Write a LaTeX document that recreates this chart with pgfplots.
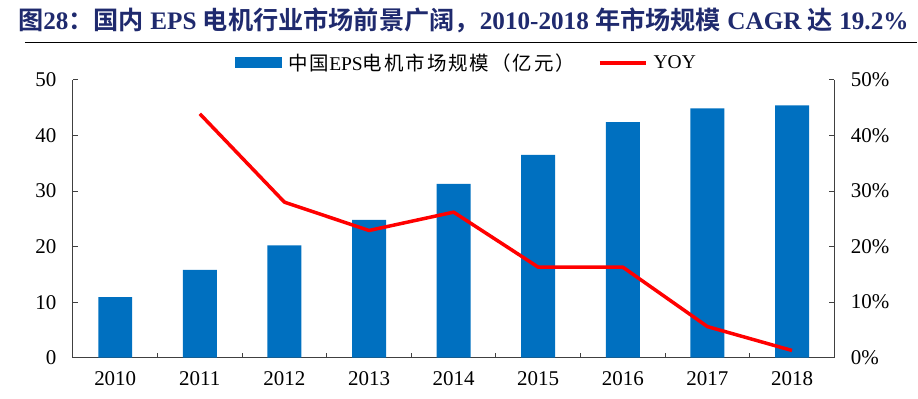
\documentclass[border=0pt]{standalone}
\usepackage{fontspec}
\setmainfont{Liberation Serif}
\newfontfamily\cjk{Noto Sans CJK SC}[BoldFont={Noto Sans CJK SC Bold}]
\newfontfamily\cjkl{Noto Sans CJK SC}[LetterSpace=10]
\usepackage{pgfplots}
\pgfplotsset{compat=1.18}
\definecolor{barblue}{HTML}{0070C0}
\definecolor{titlenavy}{HTML}{1F2A6E}
\definecolor{axgray}{HTML}{404040}
\begin{document}
\begin{tikzpicture}[x=1pt,y=1pt]
\path (0,0) rectangle (918,399);
\node[anchor=west, text=titlenavy, font=\fontsize{25.2}{28}\selectfont\bfseries, inner sep=0] at (18,379)
 {{\cjk 图}28{\cjk ：国内} EPS {\cjk 电机行业市场前景广阔，}2010-2018 {\cjk 年市场规模} CAGR {\cjk 达} 19.2\%};
\draw[line width=1.5pt] (25,356.5) -- (918,356.5);

\begin{axis}[at={(73pt,41pt)}, anchor=south west, scale only axis,
  width=762pt, height=278pt,
  xmin=-0.5, xmax=8.5, ymin=0, ymax=50,
  ytick={0,10,...,50},
  xtick={0,...,8},
  xticklabels={2010,2011,2012,2013,2014,2015,2016,2017,2018},
  minor xtick={0.5,1.5,...,7.5},
  major x tick style={draw=none},
  axis x line*=bottom, axis y line*=left,
  tick align=inside, major tick length=5pt, minor tick length=5pt,
  axis line style={axgray, line width=1pt, -},
  every tick/.style={axgray, line width=1pt},
  ticklabel style={font=\fontsize{21}{24}\selectfont},
  /pgf/number format/assume math mode=true,
  yticklabel style={xshift=-13pt},
  xticklabel style={yshift=-10pt},
  legend style={at={(0.5,1)}, anchor=center, xshift=13pt, yshift=17pt, draw=none, fill=none,
    font=\fontsize{19.5}{22}\selectfont, legend columns=2,
    /tikz/every odd column/.append style={column sep=4pt},
    /tikz/every even column/.append style={column sep=21pt}},
  legend cell align=left,
]
\addplot[ybar, bar width=34pt, fill=barblue, draw=none,
  legend image code/.code={\fill[barblue] (0pt,-5.5pt) rectangle (47pt,5.5pt);}]
  coordinates {(0,10.9) (1,15.8) (2,20.2) (3,24.8) (4,31.3) (5,36.5) (6,42.4) (7,44.9) (8,45.4)};
\addlegendentry{{\cjkl 中国}EPS{\cjkl 电机市场规模（亿元）}}
\addlegendimage{red, line width=3.5pt, legend image code/.code={\draw[red, line width=3.5pt] (0pt,0pt) -- (46pt,0pt);}}
\addlegendentry{YOY}
\end{axis}

\begin{axis}[at={(73pt,41pt)}, anchor=south west, scale only axis,
  width=762pt, height=278pt,
  xmin=-0.5, xmax=8.5, ymin=0, ymax=50,
  ytick={0,10,...,50},
  yticklabel={\pgfmathprintnumber{\tick}\%},
  axis x line=none, axis y line*=right,
  tick align=inside, major tick length=5pt,
  axis line style={axgray, line width=1pt, -},
  every tick/.style={axgray, line width=1pt},
  ticklabel style={font=\fontsize{21}{24}\selectfont},
  /pgf/number format/assume math mode=true,
  yticklabel style={xshift=13pt},
]
\addplot[red, line width=3.5pt, line join=round]
  coordinates {(1,43.9) (2,28.0) (3,22.9) (4,26.2) (5,16.3) (6,16.3) (7,5.6) (8,1.3)};
\end{axis}
\end{tikzpicture}
\end{document}
